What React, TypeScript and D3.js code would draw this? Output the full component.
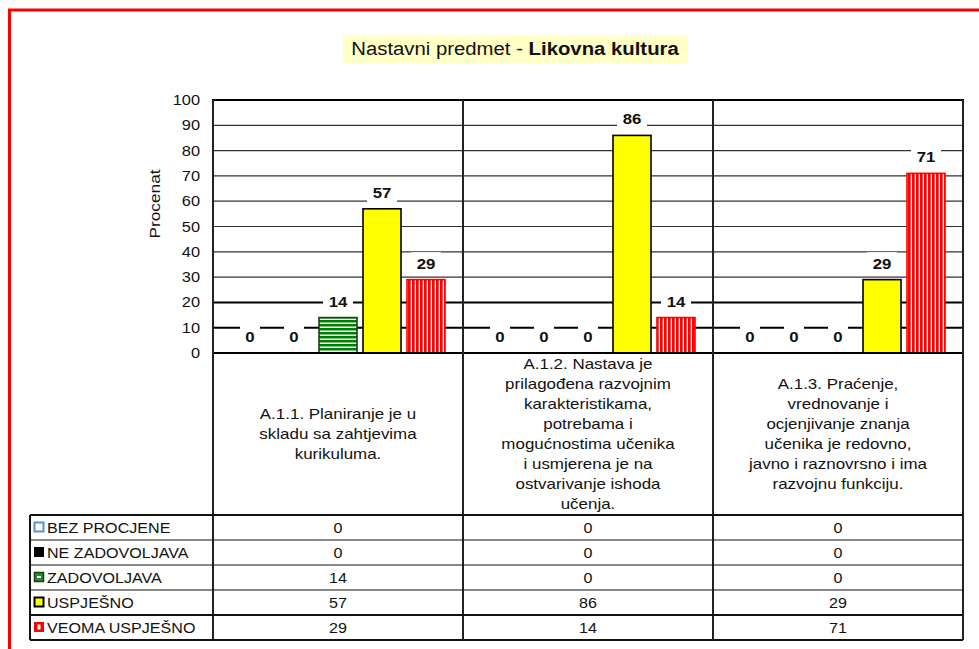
import React from "react";
import * as d3 from "d3";

const TITLE_NORMAL = "Nastavni predmet - ";
const TITLE_BOLD = "Likovna kultura";
const Y_TITLE = "Procenat";

const categories = ["A.1.1.", "A.1.2.", "A.1.3."];
const categoryLines = [
  ["A.1.1. Planiranje je u", "skladu sa zahtjevima", "kurikuluma."],
  [
    "A.1.2. Nastava je",
    "prilagođena razvojnim",
    "karakteristikama,",
    "potrebama i",
    "mogućnostima učenika",
    "i usmjerena je na",
    "ostvarivanje ishoda",
    "učenja.",
  ],
  [
    "A.1.3. Praćenje,",
    "vrednovanje i",
    "ocjenjivanje znanja",
    "učenika je redovno,",
    "javno i raznovrsno i ima",
    "razvojnu funkciju.",
  ],
];

const seriesNames = ["BEZ PROCJENE", "NE ZADOVOLJAVA", "ZADOVOLJAVA", "USPJEŠNO", "VEOMA USPJEŠNO"];
const bezProcjene = [0, 0, 0];
const neZadovoljava = [0, 0, 0];
const zadovoljava = [14, 0, 0];
const uspjesno = [57, 86, 29];
const veomaUspjesno = [29, 14, 71];
const seriesValues = [bezProcjene, neZadovoljava, zadovoljava, uspjesno, veomaUspjesno];

const yTicks = [0, 10, 20, 30, 40, 50, 60, 70, 80, 90, 100];

const FONT = "'Liberation Sans', Arial, Helvetica, sans-serif";
const SX = 1.15;

function T({ x, y, size = 14, weight = "normal", anchor = "start", sx = SX, fill = "#111", rotate = 0, children }: any) {
  const tr = rotate ? `translate(${x},${y}) rotate(${rotate}) scale(${sx},1)` : `translate(${x},${y}) scale(${sx},1)`;
  return (
    <text transform={tr} textAnchor={anchor} fontSize={size} fontWeight={weight} fontFamily={FONT} fill={fill}>
      {children}
    </text>
  );
}

export default function App() {
  const W = 979;
  const H = 649;
  const plotL = 213, plotR = 963, plotT = 100, plotB = 353;
  const tableT = 515, rowH = 25, tableL = 30;
  const tableB = tableT + rowH * seriesNames.length;

  const y = d3.scaleLinear().domain([0, 100]).range([plotB, plotT]);
  const x0 = d3.scaleBand<number>().domain(d3.range(categories.length)).range([plotL, plotR]);
  const x1 = d3
    .scaleBand<string>()
    .domain(seriesNames)
    .range([0, x0.bandwidth()])
    .paddingInner(6 / 44)
    .paddingOuter(0.409);

  const fills = ["#ffffff", "#000000", "url(#greenH)", "#ffff00", "url(#redV)"];
  const strokes = ["#5b8fd9", "#000000", "#1a3d1a", "#000000", "#ff0000"];

  const bars: any[] = [];
  const labels: any[] = [];
  categories.forEach((c, ci) => {
    seriesNames.forEach((s, si) => {
      const v = seriesValues[si][ci];
      const bx = x0(ci)! + x1(s)!;
      const bw = x1.bandwidth();
      const top = y(v);
      if (v > 0) {
        bars.push(
          <rect key={`b${ci}-${si}`} x={bx} y={top} width={bw} height={plotB - top} fill={fills[si]} stroke={strokes[si]} strokeWidth={1.6} />
        );
      }
      const cx = bx + bw / 2;
      const cy = top - 16;
      const txt = String(v);
      const boxW = txt.length * 10 + 10;
      labels.push(
        <g key={`l${ci}-${si}`}>
          <rect x={cx - boxW / 2} y={cy - 11.5} width={boxW} height={23} fill="#fff" />
          <T x={cx} y={cy + 5} size={14} weight="bold" anchor="middle" sx={1.2}>
            {txt}
          </T>
        </g>
      );
    });
  });

  return (
    <svg width={W} height={H} style={{ position: "absolute", left: 0, top: 0, background: "#fff" }}>
      <defs>
        <pattern id="greenH" width="4" height="4" patternUnits="userSpaceOnUse">
          <rect width="4" height="4" fill="#ffffff" />
          <rect width="4" height="2.5" fill="#008000" />
        </pattern>
        <pattern id="redV" width="4" height="4" patternUnits="userSpaceOnUse">
          <rect width="4" height="4" fill="#ffffff" />
          <rect width="2.7" height="4" fill="#ff0000" />
        </pattern>
      </defs>
      <rect x={0} y={0} width={W} height={H} fill="#fff" />
      <rect x={9.5} y={10} width={1100} height={800} fill="none" stroke="#ff0000" strokeWidth={3} />

      {/* Title */}
      <rect x={343} y={35} width={345} height={28} fill="#ffffc6" />
      <T x={515} y={55} size={18} anchor="middle" sx={1.13}>
        <tspan>{TITLE_NORMAL}</tspan>
        <tspan fontWeight="bold">{TITLE_BOLD}</tspan>
      </T>

      {/* Gridlines */}
      {yTicks.map((t) => (
        <line
          key={`g${t}`}
          x1={plotL}
          x2={plotR}
          y1={y(t)}
          y2={y(t)}
          stroke={t === 10 || t === 20 || t === 0 || t === 100 ? "#000" : "#333"}
          strokeWidth={t === 10 || t === 20 || t === 0 || t === 100 ? 2 : 1.2}
        />
      ))}
      {yTicks.map((t) => (
        <T key={`t${t}`} x={200} y={y(t) + 5} size={14} anchor="end" sx={1.17}>
          {t}
        </T>
      ))}
      <T x={160} y={204} size={15} anchor="middle" rotate={-90} sx={1.15}>
        {Y_TITLE}
      </T>

      {labels}
      {bars}

      {/* Plot frame and dividers */}
      <rect x={plotL} y={plotT} width={plotR - plotL} height={plotB - plotT} fill="none" stroke="#000" strokeWidth={2} />
      {categories.map((c, ci) => (
        <line key={`v${ci}`} x1={x0(ci)!} x2={x0(ci)!} y1={plotT} y2={tableB} stroke="#222" strokeWidth={2} />
      ))}
      <line x1={plotR} x2={plotR} y1={plotT} y2={tableB} stroke="#222" strokeWidth={2} />

      {/* Category labels */}
      {categoryLines.map((lines, ci) => {
        const cx = x0(ci)! + x0.bandwidth() / 2;
        const mid = (plotB + tableT) / 2;
        const lh = 20;
        const startY = mid - ((lines.length - 1) * lh) / 2;
        return lines.map((ln, li) => (
          <T key={`c${ci}-${li}`} x={cx} y={startY + li * lh + 5} size={15} anchor="middle" sx={1.13}>
            {ln}
          </T>
        ));
      })}

      {/* Data table */}
      {d3.range(seriesNames.length + 1).map((i) => (
        <line
          key={`r${i}`}
          x1={tableL}
          x2={plotR}
          y1={tableT + i * rowH}
          y2={tableT + i * rowH}
          stroke="#111"
          strokeWidth={i === 0 || i === 4 || i === 5 ? 2 : 1.2}
        />
      ))}
      <line x1={tableL} x2={tableL} y1={tableT} y2={tableB} stroke="#111" strokeWidth={2} />
      {seriesNames.map((s, si) => {
        const cy = tableT + si * rowH + rowH / 2;
        let icon;
        if (si === 0) icon = <rect x={34.5} y={cy - 5} width={9} height={9} fill="#fff" stroke="#5b8fd9" strokeWidth={2} />;
        else if (si === 1) icon = <rect x={34} y={cy - 5.5} width={10} height={10} fill="#000" />;
        else if (si === 2)
          icon = (
            <g>
              <rect x={34.5} y={cy - 5} width={9} height={9} fill="#2e8b2e" stroke="#1a3d1a" strokeWidth={1.5} />
              <rect x={37} y={cy - 1.5} width={4} height={2} fill="#fff" />
            </g>
          );
        else if (si === 3) icon = <rect x={34.5} y={cy - 5} width={9} height={9} fill="#ffff00" stroke="#000" strokeWidth={2} />;
        else
          icon = (
            <g>
              <rect x={34} y={cy - 5.5} width={10} height={10} fill="#ff0000" />
              <rect x={37.5} y={cy - 3} width={3} height={5} fill="#fff" />
            </g>
          );
        return (
          <g key={`row${si}`}>
            {icon}
            <T x={47} y={cy + 5} size={14} sx={1.15}>
              {s}
            </T>
            {categories.map((c, ci) => (
              <T key={`v${si}-${ci}`} x={x0(ci)! + x0.bandwidth() / 2} y={cy + 5} size={14} anchor="middle" sx={1.15}>
                {seriesValues[si][ci]}
              </T>
            ))}
          </g>
        );
      })}
    </svg>
  );
}
